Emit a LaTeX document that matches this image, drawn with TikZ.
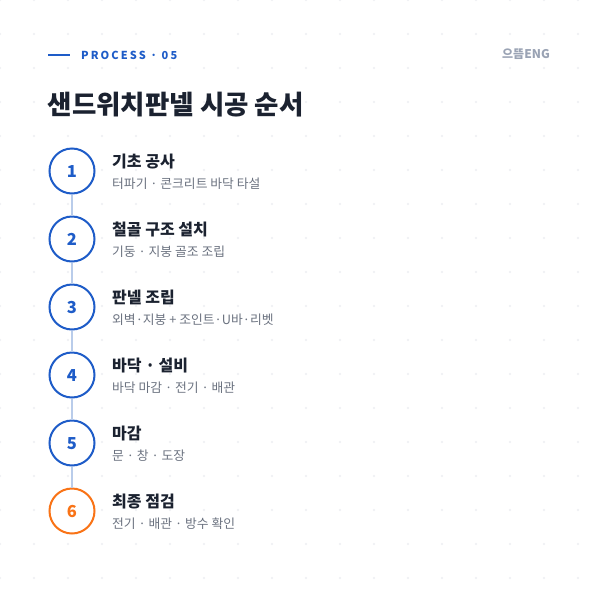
\documentclass[tikz,border=0pt]{standalone}
\usepackage{fontspec}
\setmainfont{Noto Sans CJK KR}
\definecolor{bluec}{HTML}{1E5CC8}
\definecolor{orangec}{HTML}{F97316}
\definecolor{linec}{HTML}{B9CCEA}
\definecolor{titlec}{HTML}{1B2230}
\definecolor{subc}{HTML}{6B7280}
\definecolor{brandc}{HTML}{9AA3B4}
\definecolor{dotc}{HTML}{ECEEF2}
\tikzset{
  stepcirc/.style={circle, draw=bluec, line width=2pt, fill=white, minimum size=45pt, inner sep=0pt,
    text=bluec, font=\fontsize{16.5}{16}\selectfont\bfseries, text height=12pt, text depth=0pt},
  laststep/.style={stepcirc, draw=orangec, text=orangec},
  steptitle/.style={anchor=base west, inner sep=0pt, text=titlec, font=\fontsize{16}{16}\selectfont\bfseries},
  stepsub/.style={anchor=base west, inner sep=0pt, text=subc, font=\fontsize{12.8}{13}\selectfont},
  conn/.style={draw=linec, line width=2pt}
}
\begin{document}
\begin{tikzpicture}[x=1pt,y=-1pt]
\useasboundingbox[fill=white] (0,0) rectangle (600,603);
\foreach \i in {0,...,17}{\foreach \j in {0,...,17}{\fill[dotc] (\i*34,\j*34) circle (1.1);}}
% header
\coordinate (hl1) at (48,55);
\coordinate (hl2) at (70,55);
\draw[bluec, line width=2pt] (hl1) -- (hl2);
\node[anchor=base west, inner sep=0pt, text=bluec, font=\fontsize{11}{11}\selectfont\bfseries\addfontfeatures{LetterSpace=19}] (proc) at (81,59) {PROCESS · 05};
\node[anchor=base east, inner sep=0pt, text=brandc, font=\fontsize{12}{12}\selectfont\bfseries] (brand) at (550,58.5) {으뜸ENG};
\node[anchor=base west, inner sep=0pt, text=titlec, font=\fontsize{26.5}{27}\selectfont\bfseries] (title) at (47.5,114) {샌드위치판넬 시공 순서};
% steps
\node[stepcirc] (c1) at (72,171) {1};
\node[stepcirc] (c2) at (72,239) {2};
\node[stepcirc] (c3) at (72,307) {3};
\node[stepcirc] (c4) at (72,375) {4};
\node[stepcirc] (c5) at (72,443) {5};
\node[laststep] (c6) at (72,511) {6};
\foreach \a/\b in {c1/c2,c2/c3,c3/c4,c4/c5,c5/c6}{\draw[conn] (\a.south) -- (\b.north);}
\node[steptitle] (t1) at (112,167) {기초 공사};
\node[stepsub] (s1) at (112,188) {터파기 · 콘크리트 바닥 타설};
\node[steptitle] (t2) at (112,235) {철골 구조 설치};
\node[stepsub] (s2) at (112,256) {기둥 · 지붕 골조 조립};
\node[steptitle] (t3) at (112,303) {판넬 조립};
\node[stepsub] (s3) at (112,324) {외벽·지붕 + 조인트·U바·리벳};
\node[steptitle] (t4) at (112,371) {바닥 · 설비};
\node[stepsub] (s4) at (112,392) {바닥 마감 · 전기 · 배관};
\node[steptitle] (t5) at (112,439) {마감};
\node[stepsub] (s5) at (112,460) {문 · 창 · 도장};
\node[steptitle] (t6) at (112,507) {최종 점검};
\node[stepsub] (s6) at (112,528) {전기 · 배관 · 방수 확인};
\end{tikzpicture}
\end{document}
